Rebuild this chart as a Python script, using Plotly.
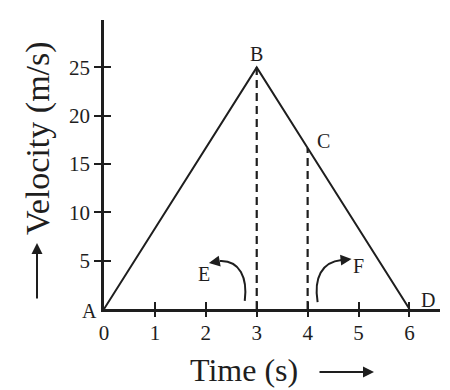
import plotly.graph_objects as go

# ---- data ----
time_s = [0, 3, 4, 6]
velocity = [0, 25, 50 / 3, 0]
point_labels = ["A", "B", "C", "D"]
x_ticks = [0, 1, 2, 3, 4, 5, 6]
y_ticks = [5, 10, 15, 20, 25]
dash_times = [3, 4]
dash_vel = [25, 50 / 3]

INK = "#1e1e1e"
FONT = "Liberation Serif"

fig = go.Figure()

# main velocity-time graph
fig.add_trace(go.Scatter(x=time_s, y=velocity, mode="lines",
                         line=dict(color=INK, width=2), hoverinfo="skip",
                         showlegend=False))
# dashed verticals
for t, v in zip(dash_times, dash_vel):
    fig.add_trace(go.Scatter(x=[t, t], y=[0, v], mode="lines",
                             line=dict(color=INK, width=2.2, dash="8px,5px"),
                             hoverinfo="skip", showlegend=False))
# dummy traces to bind overlay axes
fig.add_trace(go.Scatter(x=[], y=[], xaxis="x2", yaxis="y", showlegend=False))
fig.add_trace(go.Scatter(x=[], y=[], xaxis="x3", yaxis="y", showlegend=False))
fig.add_trace(go.Scatter(x=[], y=[], xaxis="x", yaxis="y2", showlegend=False))

XR = [0, 6.6]
YR = [0, 29.9]

fig.update_layout(
    width=450, height=390,
    margin=dict(l=104, r=10, t=20, b=81),
    paper_bgcolor="white", plot_bgcolor="white",
    font=dict(family=FONT, color=INK),
    showlegend=False,
    xaxis=dict(range=XR, showline=True, linecolor=INK, linewidth=2.5,
               showgrid=False, zeroline=False, tickvals=x_ticks, ticks="",
               tickfont=dict(size=21, family=FONT, color=INK),
               ticklabelstandoff=3, fixedrange=True),
    xaxis2=dict(range=XR, overlaying="x", anchor="y", side="bottom",
                showline=False, showgrid=False, zeroline=False,
                tickvals=x_ticks[1:], ticks="outside", ticklen=7,
                tickwidth=2, tickcolor=INK, showticklabels=False),
    xaxis3=dict(range=XR, overlaying="x", anchor="y", side="bottom",
                showline=False, showgrid=False, zeroline=False,
                tickvals=x_ticks[1:], ticks="inside", ticklen=7,
                tickwidth=2, tickcolor=INK, showticklabels=False),
    yaxis=dict(range=YR, showline=True, linecolor=INK, linewidth=2.5,
               showgrid=False, zeroline=False, tickvals=y_ticks,
               ticks="outside", ticklen=7, tickwidth=2, tickcolor=INK,
               tickfont=dict(size=21, family=FONT, color=INK),
               ticklabelstandoff=0, fixedrange=True),
    yaxis2=dict(range=YR, overlaying="y", anchor="x", side="left",
                showline=False, showgrid=False, zeroline=False,
                tickvals=y_ticks, ticks="inside", ticklen=7, tickwidth=2,
                tickcolor=INK, showticklabels=False),
)

# point labels
label_shift = {"A": (-15, -2), "B": (0, 13), "C": (16, 7), "D": (19, 9)}
for t, v, lab in zip(time_s, velocity, point_labels):
    dx, dy = label_shift[lab]
    fig.add_annotation(x=t, y=v, text=lab, showarrow=False, xshift=dx,
                       yshift=dy, font=dict(size=20, family=FONT, color=INK))

# E and F labels
fig.add_annotation(x=1.96, y=3.6, text="E", showarrow=False,
                   font=dict(size=20, family=FONT, color=INK))
fig.add_annotation(x=5.0, y=4.44, text="F", showarrow=False,
                   font=dict(size=20, family=FONT, color=INK))

# curved arrows
fig.add_shape(type="path", xref="x", yref="y",
              path="M 2.765,0.83 C 2.824,3.2 2.667,5.06 2.275,4.96",
              line=dict(color=INK, width=2))
fig.add_annotation(x=2.06, y=4.75, ax=11, ay=-2, text="", showarrow=True,
                   arrowhead=2, arrowsize=1.1, arrowwidth=2, arrowcolor=INK)
fig.add_shape(type="path", xref="x", yref="y",
              path="M 4.196,0.72 C 4.118,3.2 4.275,4.86 4.667,5.06",
              line=dict(color=INK, width=2))
fig.add_annotation(x=4.863, y=5.17, ax=-10, ay=1, text="", showarrow=True,
                   arrowhead=2, arrowsize=1.1, arrowwidth=2, arrowcolor=INK)

# axis titles
PW, PH = 336.0, 289.0
fig.add_annotation(xref="paper", yref="paper", x=(38 - 104) / PW,
                   y=(309 - 138) / PH, text="Velocity (m/s)", textangle=-90,
                   showarrow=False, xanchor="center", yanchor="middle",
                   font=dict(size=34, family=FONT, color=INK))
fig.add_annotation(xref="paper", yref="paper", x=(37 - 104) / PW,
                   y=(309 - 243) / PH, ax=0, ay=57, text="", showarrow=True,
                   arrowhead=2, arrowsize=1.1, arrowwidth=2, arrowcolor=INK)
fig.add_annotation(xref="paper", yref="paper", x=(244 - 104) / PW,
                   y=(309 - 370) / PH, text="Time (s)", showarrow=False,
                   xanchor="center", yanchor="middle",
                   font=dict(size=32, family=FONT, color=INK))
fig.add_annotation(xref="paper", yref="paper", x=(374 - 104) / PW,
                   y=(309 - 372) / PH, ax=-56, ay=0, text="", showarrow=True,
                   arrowhead=2, arrowsize=1.1, arrowwidth=2, arrowcolor=INK)

fig.write_html("out.html")
